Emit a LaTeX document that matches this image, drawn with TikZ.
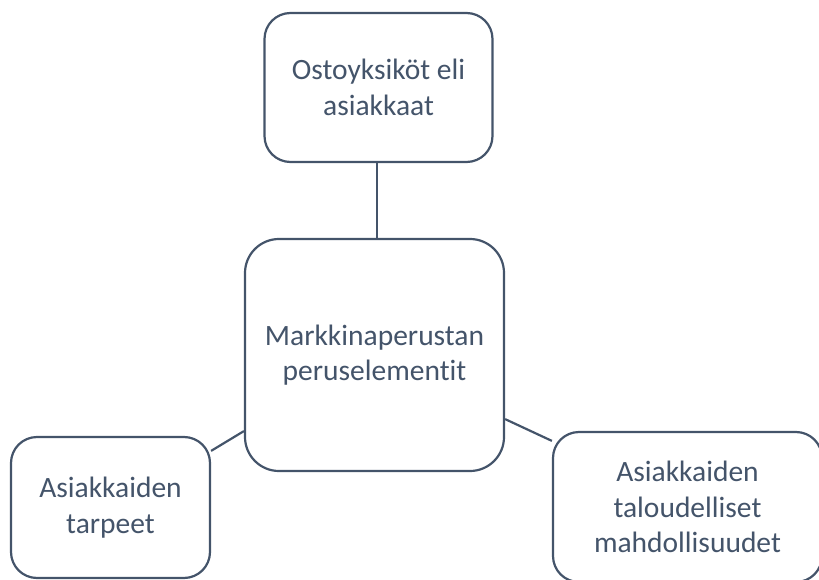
\documentclass[tikz,border=0pt]{standalone}
\usepackage{fontspec}
\setmainfont[Ligatures=CommonOff]{Carlito}
\usetikzlibrary{calc}
\definecolor{slate}{HTML}{44546A}
\tikzset{
  boxnode/.style={draw=slate, line width=2.2pt, fill=white, rounded corners=26pt,
    text=slate, align=center, inner sep=0pt,
    font=\fontsize{29.5}{35.5}\selectfont},
  link/.style={draw=slate, line width=2.2pt}
}
\begin{document}
\begin{tikzpicture}[x=1pt,y=-1pt]
\useasboundingbox (0,0) rectangle (819,580);
\begin{scope}
\clip (0,0) rectangle (819,580);
\node[boxnode, minimum width=228pt, minimum height=149pt] (top) at (378.5,87.5) {Ostoyksiköt eli\\asiakkaat};
\node[boxnode, rounded corners=34pt, minimum width=259pt, minimum height=232pt] (mid) at (374.5,355) {Markkinaperustan\\peruselementit};
\node[boxnode, minimum width=199pt, minimum height=141pt] (lb) at (110.5,507.5) {Asiakkaiden\\tarpeet};
\node[boxnode, minimum width=269pt, minimum height=150pt] (rb) at (687.5,507) {Asiakkaiden\\taloudelliset\\mahdollisuudet};
\draw[link] (top.south -| 377,0) -- (mid.north -| 377,0);
\draw[link] ($(lb.north east)+(0,15)$) -- ($(mid.south west)+(0,-41)$);
\draw[link] ($(mid.south east)+(0,-53)$) -- ($(rb.north west)+(0,10)$);
\end{scope}
\end{tikzpicture}
\end{document}
